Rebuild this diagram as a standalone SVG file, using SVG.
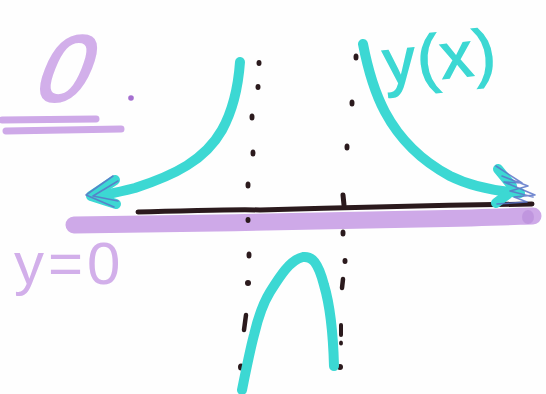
<svg xmlns="http://www.w3.org/2000/svg" width="546" height="394" viewBox="0 0 546 394">
<style>
.cy{fill:none;stroke:#3cd8d3;stroke-width:10;stroke-linecap:round;stroke-linejoin:round}
.bl{fill:none;stroke:#5b74c8;stroke-width:1.6;stroke-linecap:round;stroke-linejoin:round;opacity:.85}
.pu{fill:none;stroke:#cea9e8;stroke-linecap:round}
.dot{fill:#2b1a1d}
.hand{font-family:"Liberation Sans",Arial,sans-serif}
</style>
<rect width="546" height="394" fill="#fefefe"/>
<g id="axis">
<path class="pu" d="M74,225 C180,224 320,221 420,219 S520,216 533,216" stroke-width="17"/>
<ellipse cx="528" cy="217" rx="6" ry="7" fill="#b88bd8" opacity=".6"/>
<path d="M138,212 C200,211 230,209 260,210 C330,208 400,206 532,204" fill="none" stroke="#2b1a1d" stroke-width="5" stroke-linecap="round"/>
</g>
<g id="asymptote-left">
<ellipse class="dot" cx="259" cy="63" rx="2.5" ry="3"/>
<ellipse class="dot" cx="258" cy="87" rx="2.5" ry="3"/>
<ellipse class="dot" cx="252" cy="117" rx="2.5" ry="3.5"/>
<ellipse class="dot" cx="253" cy="153" rx="2.5" ry="3.5"/>
<ellipse class="dot" cx="248" cy="185" rx="2.5" ry="3.5"/>
<ellipse class="dot" cx="248" cy="220" rx="2.5" ry="3"/>
<ellipse class="dot" cx="249" cy="255" rx="2.5" ry="3.5"/>
<ellipse class="dot" cx="248" cy="283" rx="3" ry="3"/>
<path d="M246,315 L244,330" stroke="#2b1a1d" stroke-width="4.5" stroke-linecap="round"/>
<ellipse class="dot" cx="241" cy="367" rx="3" ry="3.5"/>
</g>
<g id="asymptote-right">
<ellipse class="dot" cx="356" cy="57" rx="2.5" ry="3.5"/>
<ellipse class="dot" cx="352" cy="103" rx="2.5" ry="3.5"/>
<ellipse class="dot" cx="347" cy="147" rx="2.5" ry="3.5"/>
<path d="M343,195 L344,205" stroke="#2b1a1d" stroke-width="5" stroke-linecap="round"/>
<ellipse class="dot" cx="343" cy="233" rx="2.5" ry="3.5"/>
<ellipse class="dot" cx="345" cy="261" rx="2.5" ry="3"/>
<path d="M343,279 L342,288" stroke="#2b1a1d" stroke-width="4.5" stroke-linecap="round"/>
<path d="M341,325 L341,335" stroke="#2b1a1d" stroke-width="4" stroke-linecap="round"/>
<ellipse class="dot" cx="341" cy="343" rx="2" ry="2.5"/>
<ellipse class="dot" cx="340" cy="367" rx="3" ry="3"/>
</g>
<g id="curves">
<path class="cy" d="M240,62 C238,90 233,110 222,130 C205,160 175,175 135,188 C115,193 100,196 92,196"/>
<polyline class="cy" points="115,180 91,196 116,204" stroke-width="9"/>
<path class="bl" d="M113,176 L86,195 L114,207 M118,181 L93,196 L118,201"/>
<path class="cy" d="M363,44 C368,70 376,95 385,112 C400,140 420,160 450,176 C470,186 495,191 520,193"/>
<path class="cy" d="M498,169 L512,186 M496,203 L508,194" stroke-width="9"/>
<path class="bl" d="M496,166 L522,183 L504,182 L535,195 L514,197 L527,202 L497,204 M502,176 L528,186 L510,191 L533,197"/>
<path class="cy" d="M242,390 C246,370 250,350 254,335 C258,318 262,305 270,292 C280,276 290,260 303,257 C312,256 318,262 324,285 C330,305 333,330 334,366"/>
</g>
<g id="label-fx">
<text class="hand" x="382" y="80" font-size="64" fill="#3cd8d3" stroke="#3cd8d3" stroke-width="1.5" letter-spacing="2" transform="rotate(-6 430 50)">y(x)</text>
</g>
<g id="label-zero">
<text class="hand" x="30" y="101" font-size="94" fill="#d2afea" stroke="#d2afea" stroke-width="2" transform="skewX(-22) translate(40 0)">0</text>
<path class="pu" d="M2,120 L96,119" stroke-width="7"/>
<path class="pu" d="M6,131 L121,129" stroke-width="7"/>
<circle cx="131" cy="98" r="2.8" fill="#a56fd0"/>
</g>
<g id="label-y0">
<text class="hand" x="14" y="284" font-size="60" fill="#d2afea" letter-spacing="4">y=0</text>
</g>
</svg>
